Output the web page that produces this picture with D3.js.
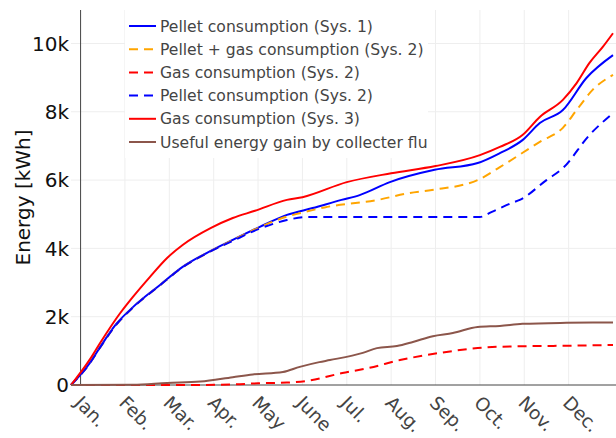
<!DOCTYPE html>
<html>
<head>
<meta charset="utf-8">
<script src="https://cdn.jsdelivr.net/npm/d3@7"></script>
<style>
  body { margin: 0; background: #fff; }
  svg { display: block; font-family: "DejaVu Sans", Verdana, sans-serif; }
</style>
</head>
<body>
<svg id="chart" width="616" height="438"></svg>
<script>
// month ticks (0 = Jan.)
var monthLabels = ["Jan.", "Feb.", "Mar.", "Apr.", "May", "June", "Jul.", "Aug.", "Sep.", "Oct.", "Nov.", "Dec."];
var yTicks = [0, 2000, 4000, 6000, 8000, 10000];

// values, x in months, y in kWh
var pelletSys1X = [-0.216, 0.21, 0.44, 0.8, 1.18, 1.79, 2.3, 2.85, 3.43, 4.04, 4.65, 5.23, 5.88, 6.29, 6.97, 7.98, 8.95, 9.45, 9.96, 10.35, 10.87, 11.4, 12];
var pelletSys1 = [0, 650, 1110, 1780, 2280, 2930, 3460, 3870, 4250, 4630, 4980, 5180, 5420, 5560, 5940, 6300, 6500, 6790, 7170, 7670, 8050, 8990, 9660];

var pelletGasSys2X = [-0.216, 0.21, 0.44, 0.8, 1.18, 1.79, 2.3, 2.85, 3.43, 4.04, 4.65, 4.94, 5.5, 6.74, 7.4, 7.92, 8.95, 9.45, 10.35, 10.87, 11.18, 11.54, 12];
var pelletGasSys2 = [0, 640, 1100, 1760, 2270, 2920, 3450, 3860, 4240, 4620, 4930, 5030, 5200, 5430, 5620, 5710, 6000, 6380, 7120, 7530, 8050, 8640, 9080];

var gasSys2X = [-0.216, 2.5, 3.5, 4.0, 4.65, 5.1, 5.9, 6.5, 7.2, 8.1, 8.95, 9.45, 10.95, 12];
var gasSys2 = [0, 0, 20, 50, 70, 120, 350, 500, 730, 940, 1080, 1120, 1150, 1170];

var pelletSys2X = [-0.216, 0.21, 0.44, 0.8, 1.18, 1.79, 2.3, 2.85, 3.43, 4.04, 4.65, 5.1, 9.0, 9.27, 9.72, 9.9, 10.5, 10.87, 11.47, 12];
var pelletSys2 = [0, 640, 1100, 1760, 2270, 2920, 3450, 3860, 4220, 4580, 4830, 4920, 4920, 5070, 5330, 5420, 6000, 6350, 7320, 7960];

var gasSys3X = [-0.216, 0.21, 0.44, 0.89, 1.18, 1.56, 1.95, 2.3, 2.94, 3.43, 3.93, 4.65, 5.0, 6.0, 7.0, 8.0, 9.0, 9.45, 9.96, 10.35, 10.87, 11.18, 11.47, 11.77, 12];
var gasSys3 = [0, 750, 1230, 2100, 2580, 3160, 3720, 4100, 4600, 4890, 5100, 5420, 5500, 5940, 6200, 6410, 6730, 6970, 7320, 7850, 8350, 8840, 9430, 9900, 10300];

var collectorX = [-0.216, 1.18, 1.95, 2.7, 3.43, 3.88, 4.56, 4.94, 5.38, 5.62, 6.36, 6.68, 7.13, 7.49, 7.94, 8.39, 8.95, 9.45, 9.96, 10.95, 12];
var collector = [0, 10, 60, 100, 230, 310, 380, 530, 670, 730, 940, 1080, 1140, 1260, 1430, 1520, 1700, 1730, 1790, 1820, 1830];

var seriesNames = ["Pellet consumption (Sys. 1)", "Pellet + gas consumption (Sys. 2)", "Gas consumption (Sys. 2)",
  "Pellet consumption (Sys. 2)", "Gas consumption (Sys. 3)", "Useful energy gain by collecter fluid"];

var series = [
  { name: seriesNames[0], x: pelletSys1X, y: pelletSys1, color: "#0000ff", dash: null },
  { name: seriesNames[1], x: pelletGasSys2X, y: pelletGasSys2, color: "#ffa500", dash: "9,6" },
  { name: seriesNames[2], x: gasSys2X, y: gasSys2, color: "#ff0000", dash: "9,6" },
  { name: seriesNames[3], x: pelletSys2X, y: pelletSys2, color: "#0000ff", dash: "9,6" },
  { name: seriesNames[4], x: gasSys3X, y: gasSys3, color: "#ff0000", dash: null },
  { name: seriesNames[5], x: collectorX, y: collector, color: "#8c564b", dash: null }
];

var svg = d3.select("#chart");
var plotLeft = 71, plotRight = 616, plotTop = 10, plotBottom = 385;

var x = d3.scaleLinear().domain([-0.216, 12]).range([plotLeft, 613]);
var y = d3.scaleLinear().domain([0, 10980]).range([plotBottom, plotTop]);

// grid
var grid = svg.append("g");
grid.selectAll(".vg")
  .data(d3.range(1, 12))
  .enter().append("line")
  .attr("x1", function(d){ return x(d) }).attr("x2", function(d){ return x(d) })
  .attr("y1", plotTop).attr("y2", plotBottom)
  .attr("stroke", "#eee").attr("stroke-width", 1);
grid.selectAll(".hg")
  .data(yTicks.slice(1))
  .enter().append("line")
  .attr("x1", plotLeft).attr("x2", plotRight)
  .attr("y1", function(d){ return y(d) }).attr("y2", function(d){ return y(d) })
  .attr("stroke", "#eee").attr("stroke-width", 1);

// zero lines
svg.append("line")
  .attr("x1", x(0)).attr("x2", x(0)).attr("y1", plotTop).attr("y2", plotBottom)
  .attr("stroke", "#444").attr("stroke-width", 1);
svg.append("line")
  .attr("x1", plotLeft).attr("x2", plotRight).attr("y1", y(0)).attr("y2", y(0))
  .attr("stroke", "#444").attr("stroke-width", 1);

// y tick labels
svg.append("g").selectAll("text")
  .data(yTicks)
  .enter().append("text")
  .attr("x", 69)
  .attr("y", function(d){ return y(d) })
  .attr("dy", "0.36em")
  .attr("text-anchor", "end")
  .attr("font-size", 20)
  .attr("fill", "#111")
  .text(function(d){ return d === 0 ? "0" : (d / 1000) + "k" });

// y title
svg.append("text")
  .attr("transform", "translate(30," + ((plotTop + plotBottom) / 2) + ") rotate(-90)")
  .attr("text-anchor", "middle")
  .attr("font-size", 20)
  .attr("fill", "#111")
  .text("Energy [kWh]");

// x tick labels, rotated
svg.append("g").selectAll("text")
  .data(monthLabels)
  .enter().append("text")
  .attr("transform", function(d, i){ return "translate(" + (x(i) - 7) + ",404) rotate(45)" })
  .attr("font-size", 18.5)
  .attr("fill", "#444")
  .text(function(d){ return d });

// lines
var line = d3.line()
  .curve(d3.curveMonotoneX)
  .x(function(d){ return x(d[0]) })
  .y(function(d){ return y(d[1]) });

var plot = svg.append("g");
series.forEach(function(s){
  plot.append("path")
    .datum(d3.zip(s.x, s.y))
    .attr("d", line)
    .attr("fill", "none")
    .attr("stroke", s.color)
    .attr("stroke-width", 2)
    .attr("stroke-dasharray", s.dash)
    .attr("stroke-linejoin", "round");
});

// legend
svg.append("clipPath").attr("id", "legclip")
  .append("rect").attr("x", 125).attr("y", 10).attr("width", 303).attr("height", 150);

var legend = svg.append("g").attr("clip-path", "url(#legclip)");
legend.append("rect")
  .attr("x", 125).attr("y", 10).attr("width", 303).attr("height", 148)
  .attr("fill", "#fff");

var rows = legend.selectAll(".row")
  .data(series)
  .enter().append("g")
  .attr("transform", function(d, i){ return "translate(0," + (26 + i * 23.2) + ")" });
rows.append("line")
  .attr("x1", 129).attr("x2", 156)
  .attr("stroke", function(d){ return d.color })
  .attr("stroke-width", 2)
  .attr("stroke-dasharray", function(d){ return d.dash });
rows.append("text")
  .attr("x", 160)
  .attr("dy", "0.36em")
  .attr("font-size", 15.6)
  .attr("fill", "#444")
  .text(function(d){ return d.name });
</script>
</body>
</html>
